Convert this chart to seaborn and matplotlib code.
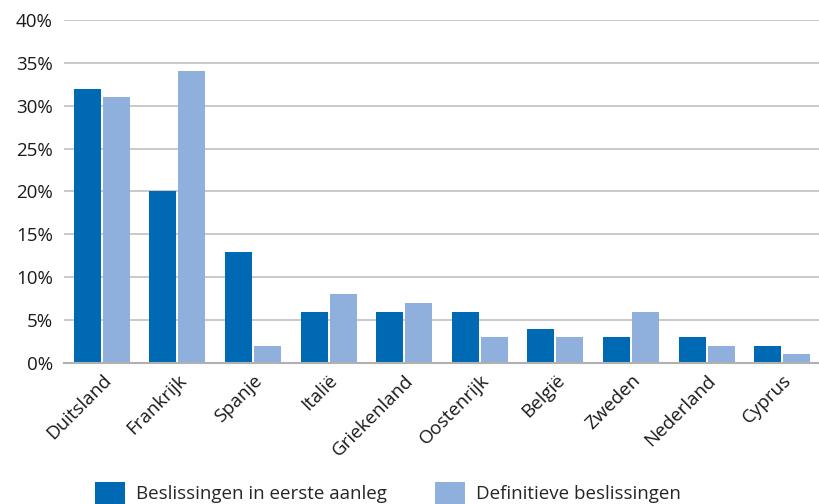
import pandas as pd
import numpy as np
import seaborn as sns
import matplotlib.pyplot as plt
from matplotlib.patches import Patch
from matplotlib.ticker import PercentFormatter

# # Data

landen = ['Duitsland', 'Frankrijk', 'Spanje', 'Italië', 'Griekenland',
          'Oostenrijk', 'België', 'Zweden', 'Nederland', 'Cyprus']
eerste_aanleg = [32, 20, 13, 6, 6, 6, 4, 3, 3, 2]
definitief = [31, 34, 2, 8, 7, 3, 3, 6, 2, 1]
series = ['Beslissingen in eerste aanleg', 'Definitieve beslissingen']
kleuren = ['#0069b4', '#8fb0dc']

df = pd.DataFrame({'land': landen * 2,
                   'pct': eerste_aanleg + definitief,
                   'reeks': [series[0]] * len(landen) + [series[1]] * len(landen)})

# # Plot

sns.set_style('white')
plt.rcParams['font.family'] = ['Open Sans', 'DejaVu Sans']
fs = 13.5

fig = plt.figure(figsize=(8.2, 5.04), dpi=100)
ax = fig.add_axes([64 / 820, (504 - 363) / 504, 1 - 64 / 820, 343 / 504])

sns.barplot(data=df, x='land', y='pct', hue='reeks', palette=kleuren,
            width=0.77, gap=0.07, saturation=1, legend=False, linewidth=0, ax=ax)

ax.set_ylim(0, 40)
ax.set_xlim(-0.5, len(landen) - 0.5)
ax.set_yticks(np.arange(0, 41, 5))
ax.yaxis.set_major_formatter(PercentFormatter(decimals=0))
ax.yaxis.grid(True, color='#c0c0c0', linewidth=1.2)
ax.set_axisbelow(True)
for s in ['top', 'right', 'left']:
    ax.spines[s].set_visible(False)
ax.spines['bottom'].set_color('#b0b0b0')
ax.spines['bottom'].set_linewidth(1.5)
ax.set_xlabel('')
ax.set_ylabel('')
ax.tick_params(axis='both', length=0, labelsize=fs, colors='#1a1a1a')
ax.tick_params(axis='y', pad=8)
ax.tick_params(axis='x', pad=6)
plt.setp(ax.get_xticklabels(), rotation=45, ha='right', rotation_mode='anchor')

handles = [Patch(color=c, linewidth=0) for c in kleuren]
fig.legend(handles, series, loc='center left', bbox_to_anchor=(88 / 820, 11 / 504),
           ncol=2, frameon=False, fontsize=fs, handlelength=1.55, handleheight=1.4,
           columnspacing=2.6, handletextpad=0.6, borderaxespad=0)

fig.savefig('out.png', dpi=100)
